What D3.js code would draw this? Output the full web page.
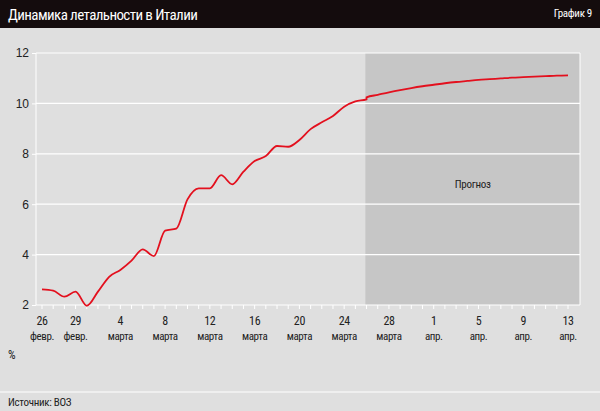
<!DOCTYPE html>
<html><head><meta charset="utf-8">
<script src="https://cdn.jsdelivr.net/npm/d3@7"></script>
<style>body{margin:0;background:#dfdfdf}svg{display:block;font-family:"Liberation Sans Narrow","Roboto Condensed","Liberation Sans",sans-serif}</style>
</head><body>
<script>
// fact values, daily from 26 Feb 2020
const factStart = "2020-02-26";
const factValues = [2.62, 2.57, 2.33, 2.53, 1.97, 2.53, 3.12, 3.39, 3.76, 4.21, 3.94, 4.95, 5.03, 6.19, 6.63, 6.63,
  7.15, 6.79, 7.29, 7.71, 7.91, 8.31, 8.28, 8.55, 8.98, 9.25, 9.50, 9.87, 10.08, 10.16];
// forecast, daily from 26 Mar
const forecastStart = "2020-03-26";
const forecastValues = [10.24, 10.34, 10.44, 10.53, 10.61, 10.68, 10.74, 10.80, 10.85, 10.89, 10.93, 10.96,
  10.99, 11.02, 11.04, 11.06, 11.08, 11.10, 11.11];
const tickDates = ["2020-02-26", "2020-02-29", "2020-03-04", "2020-03-08", "2020-03-12", "2020-03-16", "2020-03-20",
  "2020-03-24", "2020-03-28", "2020-04-01", "2020-04-05", "2020-04-09", "2020-04-13"];
const tickMonths = ["февр.", "февр.", "марта", "марта", "марта", "марта", "марта", "марта", "марта", "апр.", "апр.", "апр.", "апр."];
const yTicks = [2, 4, 6, 8, 10, 12];

const W = 600, H = 411;
const parse = d3.utcParse("%Y-%m-%d");
const day = 864e5;
const series = [];
factValues.forEach((v, i) => series.push({ d: new Date(+parse(factStart) + i * day), v }));
forecastValues.forEach((v, i) => series.push({ d: new Date(+parse(forecastStart) + i * day), v }));

const svg = d3.select("body").append("svg").attr("width", W).attr("height", H);

svg.append("rect").attr("width", W).attr("height", 28).attr("fill", "#140c0d");
svg.append("text").attr("x", 8).attr("y", 20).attr("fill", "#fff").attr("font-size", 15)
  .attr("letter-spacing", -0.6).text("Динамика летальности в Италии");
svg.append("text").attr("x", 592).attr("y", 17).attr("text-anchor", "end").attr("fill", "#fff").attr("font-size", 11)
  .attr("letter-spacing", -0.3).text("График 9");

const x = d3.scaleUtc().domain([parse("2020-02-26"), parse("2020-04-13")]).range([42, 568]);
const y = d3.scaleLinear().domain([2, 12]).range([305, 53]);
const left = 36, right = 580;
const fx = x(parse("2020-03-25")) + 10;

// forecast area
svg.append("rect").attr("x", fx).attr("y", y(12)).attr("width", right - fx)
  .attr("height", y(2) - y(12)).attr("fill", "#c6c6c6");

// grid
svg.selectAll(".grid").data(yTicks).join("line")
  .attr("x1", left).attr("x2", right).attr("y1", d => y(d)).attr("y2", d => y(d))
  .attr("stroke", "#fff").attr("stroke-width", 1.2);
svg.append("line").attr("x1", left).attr("x2", left).attr("y1", y(12)).attr("y2", y(2)).attr("stroke", "#fff");
svg.append("line").attr("x1", right).attr("x2", right).attr("y1", y(12)).attr("y2", y(2)).attr("stroke", "#fff");

const ya = svg.append("g").attr("transform", `translate(${left},0)`)
  .call(d3.axisLeft(y).tickValues(yTicks).tickSize(4).tickFormat(d3.format("d")));
ya.select(".domain").remove();
ya.selectAll("line").attr("stroke", "#fff");
ya.selectAll("text").attr("font-size", 12).attr("fill", "#222").attr("font-family", "inherit");

// minor day ticks
const days = d3.utcDay.range(parse("2020-02-26"), new Date(+parse("2020-04-13") + day));
svg.selectAll(".dt").data(days).join("line")
  .attr("x1", d => x(d)).attr("x2", d => x(d)).attr("y1", y(2)).attr("y2", y(2) + 4).attr("stroke", "#fff");

const lab = svg.selectAll(".xl").data(tickDates).join("text")
  .attr("text-anchor", "middle").attr("font-size", 11).attr("letter-spacing", -0.4).attr("fill", "#222")
  .attr("transform", d => `translate(${x(parse(d))},0)`);
lab.append("tspan").attr("x", 0).attr("y", 325).attr("font-size", 12).text(d => +d.slice(8));
lab.append("tspan").attr("x", 0).attr("y", 340).text((d, i) => tickMonths[i]);

svg.append("text").attr("x", (fx + right) / 2).attr("y", 188).attr("text-anchor", "middle")
  .attr("font-size", 11).attr("letter-spacing", -0.3).attr("fill", "#222").text("Прогноз");

svg.append("path").datum(series).attr("fill", "none").attr("stroke", "#e3101e").attr("stroke-width", 1.8)
  .attr("d", d3.line().curve(d3.curveMonotoneX).x(d => x(d.d)).y(d => y(d.v)));

svg.append("text").attr("x", 8).attr("y", 359).attr("font-size", 12).attr("fill", "#222").text("%");
svg.append("line").attr("x1", 0).attr("x2", W).attr("y1", 392).attr("y2", 392).attr("stroke", "#fff");
svg.append("text").attr("x", 8).attr("y", 406).attr("font-size", 11).attr("letter-spacing", -0.3)
  .attr("fill", "#222").text("Источник: ВОЗ");
</script>
</body></html>
